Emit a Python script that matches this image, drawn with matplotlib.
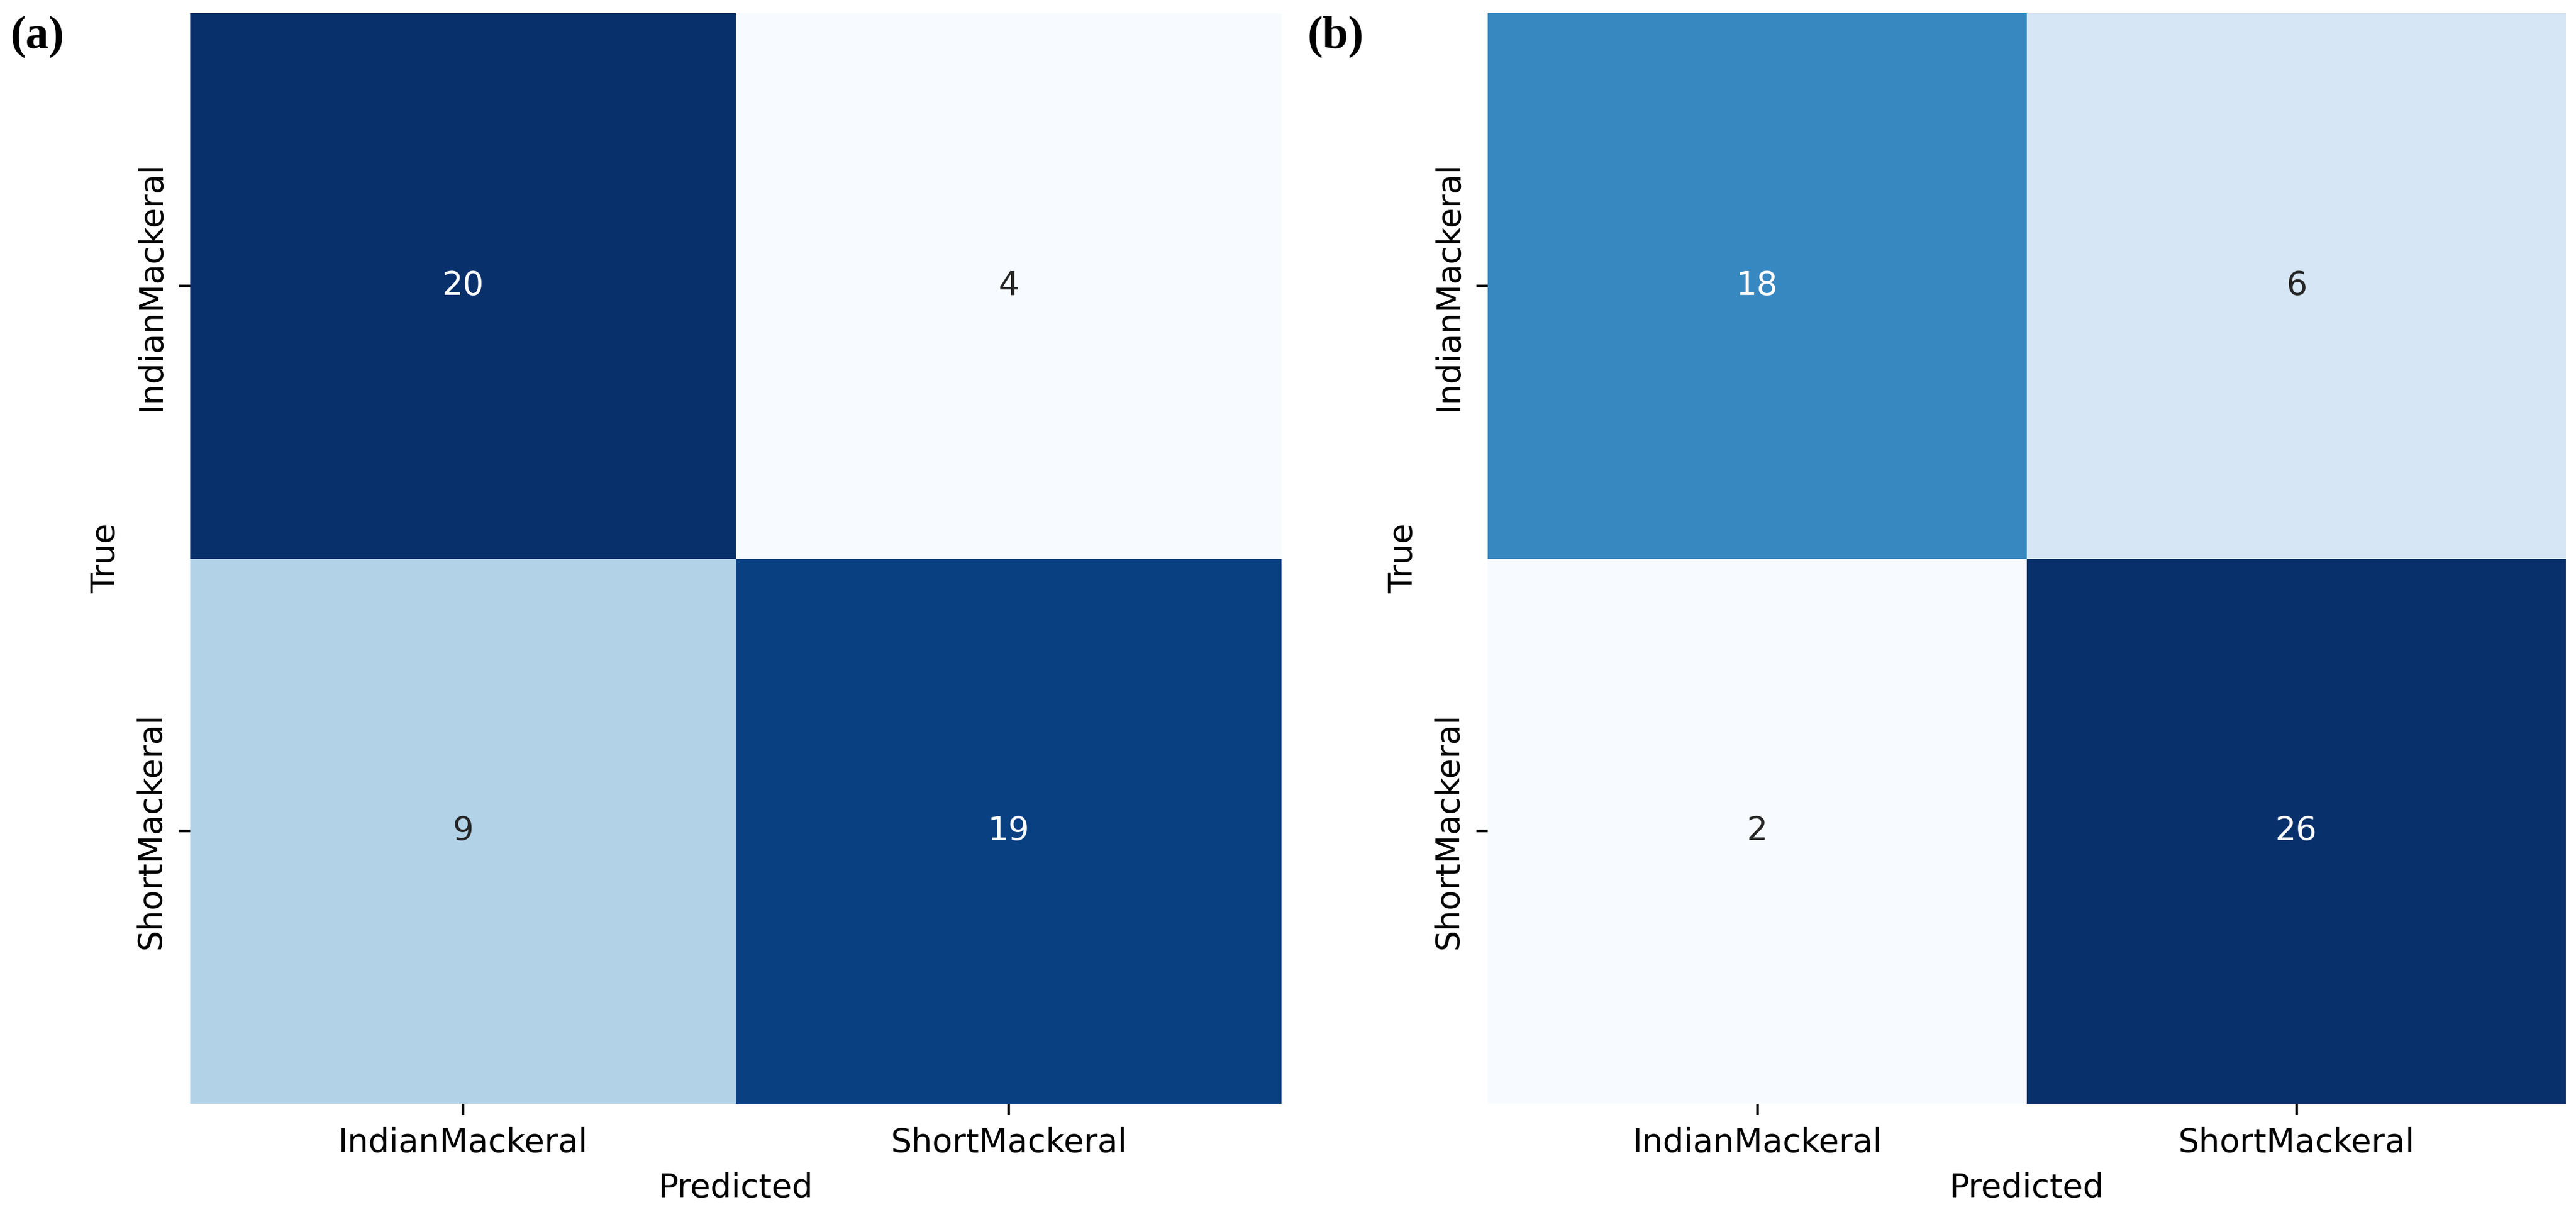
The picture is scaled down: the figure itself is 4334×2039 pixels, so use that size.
import numpy as np
import matplotlib
matplotlib.use("Agg")
import matplotlib.pyplot as plt
import seaborn as sns

# class names and confusion matrices (rows = true, cols = predicted)
classes = ["IndianMackeral", "ShortMackeral"]
cm_a = [[20, 4],
        [9, 19]]
cm_b = [[18, 6],
        [2, 26]]
panel_tags = ["(a)", "(b)"]

DPI = 400
fig = plt.figure(figsize=(4334 / DPI, 2039 / DPI), dpi=DPI)

rects = [
    [320 / 4334, 182 / 2039, 1836 / 4334, 1835 / 2039],
    [2503 / 4334, 182 / 2039, 1814 / 4334, 1835 / 2039],
]
tag_x = [18 / 4334, 2200 / 4334]

for cm, rect, tag, tx in zip([cm_a, cm_b], rects, panel_tags, tag_x):
    ax = fig.add_axes(rect)
    sns.heatmap(np.array(cm), annot=True, fmt="d", cmap="Blues", cbar=False,
                xticklabels=classes, yticklabels=classes, ax=ax,
                annot_kws={"fontsize": 10})
    ax.set_xlabel("Predicted", fontsize=10)
    ax.set_ylabel("True", fontsize=10)
    ax.tick_params(labelsize=10)
    fig.text(tx, 1 - 63 / 2039, tag, fontsize=14, fontweight="bold",
             family="Liberation Serif", va="center", ha="left")

fig.savefig("out.png", dpi=DPI)
